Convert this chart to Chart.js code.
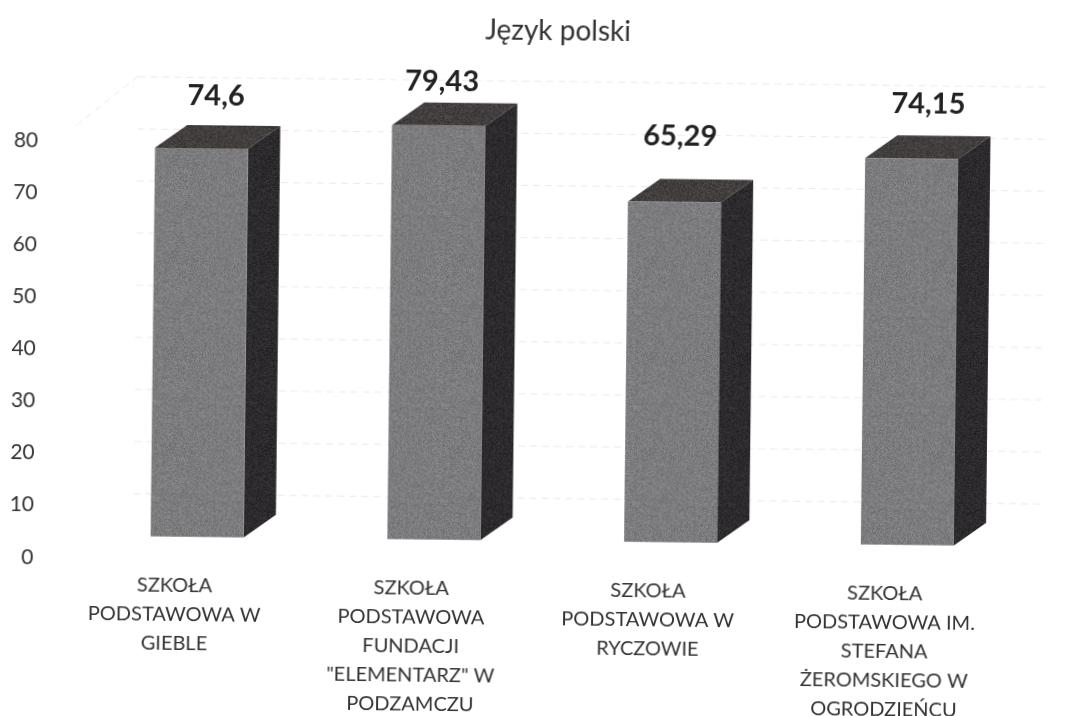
<!DOCTYPE html>
<html><head><meta charset="utf-8">
<style>html,body{margin:0;padding:0;background:#fff;overflow:hidden}
canvas{display:block;transform:rotate(0.65deg);transform-origin:537px 358px}</style>
<script src="https://cdn.jsdelivr.net/npm/chart.js@4"></script>
</head><body><canvas id="c" width="1074" height="716"></canvas>
<script>
const categories = [
  ["SZKOŁA","PODSTAWOWA W","GIEBLE"],
  ["SZKOŁA","PODSTAWOWA","FUNDACJI","\"ELEMENTARZ\" W","PODZAMCZU"],
  ["SZKOŁA","PODSTAWOWA W","RYCZOWIE"],
  ["SZKOŁA","PODSTAWOWA IM.","STEFANA","ŻEROMSKIEGO W","OGRODZIEŃCU"]
];
const values = [74.6, 79.43, 65.29, 74.15];
const valueLabels = ["74,6","79,43","65,29","74,15"];
const tickValues = [0,10,20,30,40,50,60,70,80];
const titleText = "Język polski";

const FONT = "Lato, Carlito, Calibri, sans-serif";
const DEPTH_X = 32, DEPTH_Y = 23, WALL_Y = 43;
const labelShift = [{x:14,y:52},{x:3,y:44},{x:5,y:66},{x:16,y:55}];

function grain(r,g,b,amp){
  const t=document.createElement('canvas');t.width=t.height=96;
  const x=t.getContext('2d'),im=x.createImageData(96,96);
  let s=12345;
  for(let i=0;i<96*96;i++){
    s=(s*1103515245+12345)&0x7fffffff;
    const n=((s>>16)&255)/255-0.5;
    im.data[i*4]=r+n*amp;im.data[i*4+1]=g+n*amp;im.data[i*4+2]=b+n*amp;im.data[i*4+3]=255;
  }
  x.putImageData(im,0,0);
  return document.createElement('canvas').getContext('2d').createPattern(t,'repeat');
}
const frontFill=grain(124,124,126,30), topFill=grain(66,62,62,30), sideFill=grain(44,42,44,24);

const solid3d={
  id:'solid3d',
  beforeDatasetsDraw(chart){
    const ctx=chart.ctx,y1=chart.scales.y1;
    ctx.save();
    ctx.strokeStyle='rgba(150,150,150,0.2)';ctx.lineWidth=1;ctx.setLineDash([7,5]);
    const wallLeft=135,wallRight=1045;
    tickValues.forEach(v=>{
      const py=y1.getPixelForValue(v)-WALL_Y+0.5;
      ctx.beginPath();ctx.moveTo(wallLeft,py);ctx.lineTo(wallRight,py);ctx.stroke();
    });
    const p80=y1.getPixelForValue(tickValues[tickValues.length-1])-WALL_Y;
    ctx.beginPath();ctx.moveTo(wallLeft,p80);ctx.lineTo(wallLeft-65,p80+53);ctx.stroke();
    ctx.restore();
    chart.getDatasetMeta(0).data.forEach(b=>{
      const l=b.x-b.width/2,r=b.x+b.width/2,t=b.y,bt=b.base;
      ctx.save();
      ctx.fillStyle=topFill;ctx.beginPath();
      ctx.moveTo(l,t);ctx.lineTo(l+DEPTH_X,t-DEPTH_Y);ctx.lineTo(r+DEPTH_X,t-DEPTH_Y);ctx.lineTo(r,t);ctx.closePath();ctx.fill();
      ctx.fillStyle=sideFill;ctx.beginPath();
      ctx.moveTo(r,t);ctx.lineTo(r+DEPTH_X,t-DEPTH_Y);ctx.lineTo(r+DEPTH_X,bt-DEPTH_Y);ctx.lineTo(r,bt);ctx.closePath();ctx.fill();
      ctx.restore();
    });
  },
  afterDatasetsDraw(chart){
    const ctx=chart.ctx;
    ctx.save();
    ctx.font="bold 29px "+FONT;ctx.fillStyle="#222";ctx.textAlign='center';ctx.textBaseline='middle';
    chart.getDatasetMeta(0).data.forEach((b,i)=>{
      ctx.fillText(valueLabels[i],b.x+labelShift[i].x,b.y-labelShift[i].y);
    });
    ctx.restore();
  }
};

new Chart(document.getElementById('c'),{
  type:'bar',
  data:{labels:categories,datasets:[{data:values,yAxisID:'y1',backgroundColor:frontFill,borderWidth:0,
    barPercentage:0.393,categoryPercentage:1}]},
  plugins:[solid3d],
  options:{
    responsive:false,animation:false,
    layout:{padding:{left:0,right:46.2,top:0,bottom:0}},
    plugins:{
      legend:{display:false},tooltip:{enabled:false},
      title:{display:true,fullSize:false,text:titleText,color:'#333',font:{family:FONT,size:28,weight:'normal',lineHeight:1.2},
        padding:{top:14,bottom:44}}
    },
    scales:{
      x:{
        grid:{display:false},border:{display:false},
        afterFit(s){s.height=716-560.7;},
        ticks:{autoSkip:false,maxRotation:0,minRotation:0,labelOffset:-22,padding:6,color:'#333',
          font:{family:FONT,size:20,lineHeight:1.45}}
      },
      y:{
        position:'left',min:0.4,max:90.4,
        grid:{display:false},border:{display:false},
        afterBuildTicks(s){s.ticks=tickValues.map(v=>({value:v}));},
        afterFit(s){s.width=80.8;},
        ticks:{padding:37,color:'#333',font:{family:FONT,size:21}}
      },
      y1:{display:false,min:-3.82,max:86.18}
    }
  }
});
</script></body></html>
